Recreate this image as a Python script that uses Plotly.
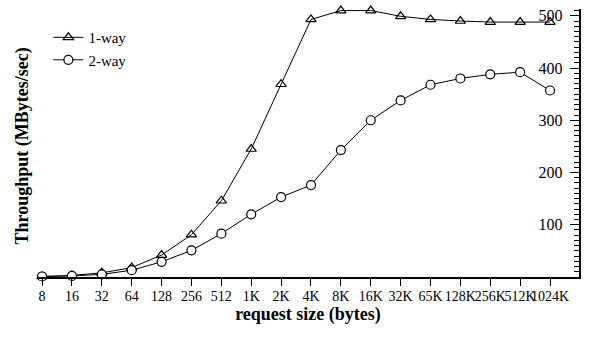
import plotly.graph_objects as go

categories = ["8", "16", "32", "64", "128", "256", "512", "1K", "2K", "4K",
              "8K", "16K", "32K", "65K", "128K", "256K", "512K", "1024K"]
one_way = [1, 3, 8, 18, 42, 81, 146, 245, 369, 493,
           510, 510, 499, 493, 490, 488, 488, 488]
two_way = [1, 2, 5, 13, 29, 51, 83, 120, 153, 176,
           243, 300, 338, 368, 380, 388, 392, 357]
y_ticks = [100, 200, 300, 400, 500]

FONT = "Liberation Serif, Times New Roman, serif"
Y_RANGE = [0, 513]

fig = go.Figure()
fig.add_trace(go.Scatter(
    x=categories, y=one_way, name="1-way", mode="lines+markers", cliponaxis=False,
    line=dict(color="black", width=1),
    marker=dict(symbol="triangle-up-open", size=9, color="black", line=dict(width=1.2)),
))
fig.add_trace(go.Scatter(
    x=categories, y=two_way, name="2-way", mode="lines+markers", cliponaxis=False,
    line=dict(color="black", width=1),
    marker=dict(symbol="circle", size=9, color="white", line=dict(color="black", width=1.2)),
))

fig.update_layout(
    width=597, height=338,
    margin=dict(l=37, r=18, t=7, b=61),
    paper_bgcolor="white", plot_bgcolor="white",
    font=dict(family=FONT, size=14, color="black"),
    showlegend=True,
    legend=dict(x=0.021, y=0.955, xanchor="left", yanchor="top",
                font=dict(family=FONT, size=15, color="black"),
                bgcolor="rgba(0,0,0,0)", tracegroupgap=0, itemwidth=30),
    xaxis=dict(
        type="category", range=[-0.17, 17.97],
        showline=True, linecolor="black", linewidth=1.5,
        ticks="outside", ticklen=7, tickcolor="black", tickwidth=1.2,
        tickangle=0, tickmode="array", tickvals=categories, ticktext=categories,
        ticklabelstandoff=-2,
        showgrid=False, zeroline=False,
        tickfont=dict(family=FONT, size=14, color="black"),
        title=dict(text="<b>request size (bytes)</b>", font=dict(family=FONT, size=18, color="black"), standoff=4),
    ),
    yaxis=dict(
        side="right", range=Y_RANGE,
        showline=True, linecolor="black", linewidth=1.5,
        ticks="inside", ticklen=9, tickcolor="black", tickwidth=1.2,
        ticklabelposition="inside", ticklabeloverflow="allow", ticklabelstandoff=8,
        tickmode="array", tickvals=y_ticks,
        minor=dict(ticks="inside", ticklen=5, tickmode="linear", tick0=0, dtick=10,
                   tickcolor="black", tickwidth=1),
        showgrid=False, zeroline=False,
        tickfont=dict(family=FONT, size=16, color="black"),
    ),
    annotations=[dict(
        text="<b>Throughput (MBytes/sec)</b>", textangle=-90,
        xref="paper", yref="paper", x=-0.003, y=0.49, xanchor="right", yanchor="middle",
        showarrow=False, font=dict(family=FONT, size=18, color="black"),
    )],
)

fig.write_html(
    "out.html",
    config={"displayModeBar": False},
    post_script="document.body.style.margin='0';document.body.style.overflow='hidden';",
)
